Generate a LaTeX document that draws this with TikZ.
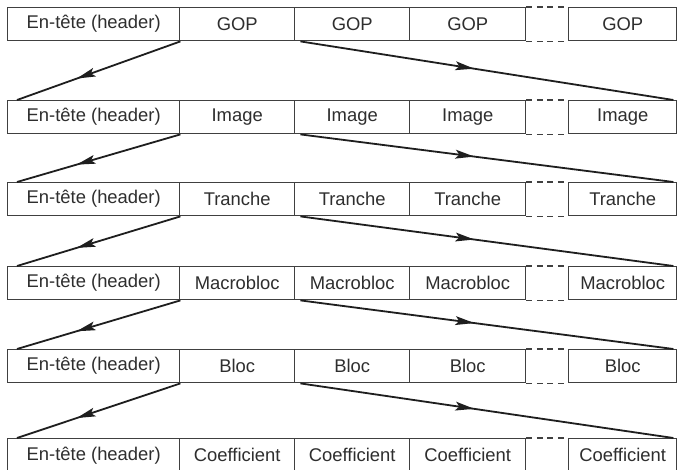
\documentclass[tikz,border=0pt]{standalone}
\usepackage{fontspec}
\setmainfont{Liberation Sans}
\usetikzlibrary{decorations.markings}
\definecolor{boxgray}{HTML}{404040}
\definecolor{textgray}{HTML}{2E2E2E}
\definecolor{linkgray}{HTML}{1E1E1E}
\begin{document}
\begin{tikzpicture}[x=1pt,y=-1pt,
  cell/.style={draw=boxgray, line width=1.4pt, minimum height=33pt, inner sep=0pt,
    text=textgray, font=\fontsize{18.4}{20}\selectfont, anchor=north west},
  gapdash/.style={draw=boxgray, line width=1.4pt, dash pattern=on 6pt off 4.5pt},
  link/.style={draw=linkgray, line width=1.8pt},
  headat/.style={postaction={decorate, decoration={markings,
    mark=at position #1 with {\fill[linkgray] (6pt,0pt) -- (-13pt,4.5pt) -- (-9pt,0pt) -- (-13pt,-4.5pt) -- cycle;}}}}
]
\fill[white] (0,0) rectangle (680,469);
\useasboundingbox (0,0) rectangle (680,469);

% one row per level of the stream
\foreach \i/\y/\t in {1/7/GOP, 2/100/Image, 3/182/Tranche, 4/266/Macrobloc, 5/349/Bloc, 6/438/Coefficient}{
  \node[cell, minimum width=172pt] (h\i) at (7,\y) {En-tête (header)};
  \node[cell, minimum width=115pt] (a\i) at (179,\y) {\t};
  \node[cell, minimum width=115pt] (b\i) at (294,\y) {\t};
  \node[cell, minimum width=116pt] (c\i) at (409,\y) {\t};
  \node[cell, minimum width=108pt] (d\i) at (568,\y) {\t};
  \draw[gapdash] (c\i.north east) -- (d\i.north west);
  \draw[gapdash] (c\i.south east) -- (d\i.south west);
}

% expansion of each element into the next level
\foreach \i in {1,...,5}{
  \pgfmathtruncatemacro\j{\i+1}
  \draw[link, headat=0.6] (h\i.south east) -- ([xshift=10pt]h\j.north west);
  \draw[link, headat=0.45] ([xshift=5pt]a\i.south east) -- ([xshift=-4pt]d\j.north east);
}
\end{tikzpicture}
\end{document}
